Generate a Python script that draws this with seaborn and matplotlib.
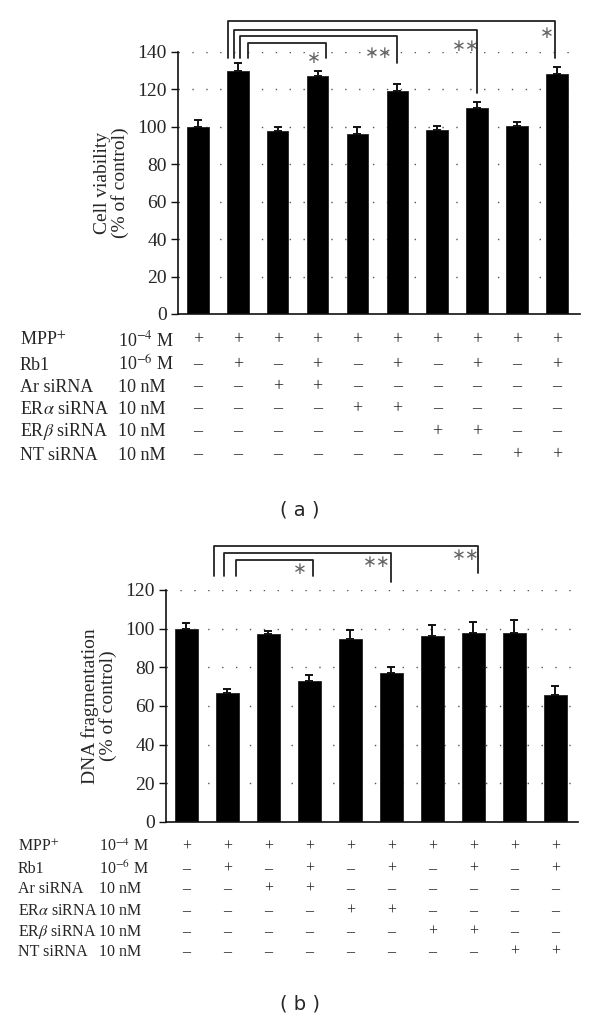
import matplotlib
matplotlib.use('Agg')
import matplotlib.pyplot as plt
import matplotlib.transforms as mtransforms
import numpy as np
import pandas as pd
import seaborn as sns

# bar groups (10 treatment combinations)
groups = [f'g{i}' for i in range(1, 11)]

viability = [100, 130, 98, 127, 96, 119, 98.5, 110, 100.5, 128.5]
viability_err = [3.5, 4, 2, 3, 4, 4, 2, 3.5, 2, 3.5]

fragmentation = [100, 66.5, 97, 73, 94.5, 77, 96, 98, 98, 65.5]
fragmentation_err = [3, 2.5, 2, 3, 5, 3, 6, 5.5, 6.5, 5]

row_names = ['MPP$^{+}$', 'Rb1', 'Ar siRNA', r'ER$\alpha$ siRNA', r'ER$\beta$ siRNA', 'NT siRNA']
row_conc = ['10$^{-4}$ M', '10$^{-6}$ M', '10 nM', '10 nM', '10 nM', '10 nM']
row_signs = [
    '++++++++++',
    '-+-+-+-+-+',
    '--++------',
    '----++----',
    '------++--',
    '--------++',
]

top_pairs = [(1, 9), (1, 7), (1, 5), (1, 3)]
top_stars = ['*', '**', '**', '*']
bottom_pairs = [(1, 7), (1, 5), (1, 3)]
bottom_stars = ['**', '**', '*']

sns.set_theme(style='white')
plt.rcParams['font.family'] = ['Liberation Serif', 'DejaVu Serif']
plt.rcParams['mathtext.fontset'] = 'stix'

fig = plt.figure(figsize=(6, 10.24), dpi=100)
ax_a = fig.add_axes([178 / 600, 1 - 314 / 1024, 402 / 600, 262 / 1024])
ax_b = fig.add_axes([166 / 600, 1 - 822 / 1024, 412 / 600, 232 / 1024])


def draw_bars(ax, values, errs, ymax, width, ylabel, xmax):
    df = pd.DataFrame({'group': groups, 'value': values})
    for y in range(20, ymax + 1, 20):
        ax.axhline(y, color='#555555', lw=1.0, ls=(0, (1, 9)), zorder=0)
    sns.barplot(data=df, x='group', y='value', color='black', width=width,
                errorbar=None, saturation=1, edgecolor='#222222', lw=0.6,
                ax=ax, zorder=2)
    x = np.arange(len(values))
    ax.errorbar(x, values, yerr=[np.zeros(len(errs)), errs], fmt='none',
                ecolor='#111111', elinewidth=1.4, capsize=3, capthick=1.4, zorder=3)
    ax.set_ylim(0, ymax)
    ax.set_xlim(-0.5, xmax)
    ax.set_yticks(range(0, ymax + 1, 20))
    ax.set_xticks([])
    ax.set_xlabel('')
    ax.set_ylabel(ylabel, fontsize=14, labelpad=6, linespacing=1.0)
    ax.tick_params(axis='y', direction='out', length=5, width=1, labelsize=14,
                   left=True, pad=3, color='#111111')
    for s in ['top', 'right']:
        ax.spines[s].set_visible(False)
    for s in ['left', 'bottom']:
        ax.spines[s].set_color('#111111')
        ax.spines[s].set_linewidth(1.2)


def draw_table(ax, row_y, name_x, conc_x, size):
    trans = mtransforms.blended_transform_factory(ax.transData, fig.transFigure)
    for name, conc, signs, y in zip(row_names, row_conc, row_signs, row_y):
        fig.text(name_x / 600, 1 - y / 1024, name, fontsize=size, va='center', ha='left')
        fig.text(conc_x / 600, 1 - y / 1024, conc, fontsize=size, va='center', ha='left')
        for i, s in enumerate(signs):
            ax.text(i, 1 - y / 1024, '+' if s == '+' else '\u2013', transform=trans,
                    fontsize=size, ha='center', va='center', color='#222222')


def draw_bracket(ax, xl, xr, ytop, yl, yr, star, sx, sy):
    ax.plot([xl, xl, xr, xr], [yl, ytop, ytop, yr], color='#222222', lw=1.3,
            clip_on=False, zorder=4)
    ax.text(sx, sy, '\u2217' * len(star), fontsize=12, color='#666666',
            ha='center', va='center', family='DejaVu Sans', clip_on=False)


draw_bars(ax_a, viability, viability_err, 140, 0.54,
          'Cell viability\n(% of control)', 9.58)
draw_bars(ax_b, fragmentation, fragmentation_err, 120, 0.56,
          'DNA fragmentation\n(% of control)', 9.55)

# brackets panel (a)
top_geom = [(0.75, 156.4, 137, 136.7, 0.2, 150),
            (0.90, 152.0, 137, 118.0, -0.28, 143),
            (1.05, 148.8, 137, 134.0, -0.46, 139.7),
            (1.25, 144.7, 137, 137.0, -0.29, 137)]
for (a, b), star, (xl, yt, yl, yr, dx, sy) in zip(top_pairs, top_stars, top_geom):
    xr = b if b != 3 else b + 0.2
    xr = xr - 0.04 if b == 9 else xr
    draw_bracket(ax_a, xl, xr, yt, yl, yr, star, xr + dx if b != 9 else xr - 0.2, sy)

# brackets panel (b)
bottom_geom = [(0.68, 142.8, 127.3, 128.8, -0.29, 138.1),
               (0.92, 139.3, 127.0, 124.3, -0.35, 134.7),
               (1.21, 135.5, 127.3, 127.3, -0.33, 130.7)]
for (a, b), star, (xl, yt, yl, yr, dx, sy) in zip(bottom_pairs, bottom_stars, bottom_geom):
    xr = b + 0.1 if b == 7 else b + (0.09 if b == 3 else 0)
    draw_bracket(ax_b, xl, xr, yt, yl, yr, star, xr + dx, sy)

draw_table(ax_a, [340, 365, 387, 409, 432, 455], 20, 118, 13)
draw_table(ax_b, [847, 869, 889, 911, 932, 952], 18, 99, 11.5)

fig.text(0.5, 1 - 510 / 1024, '( a )', fontsize=14, ha='center', va='center',
         family='DejaVu Sans')
fig.text(0.5, 1 - 1004 / 1024, '( b )', fontsize=14, ha='center', va='center',
         family='DejaVu Sans')

fig.savefig('out.png', dpi=100)
